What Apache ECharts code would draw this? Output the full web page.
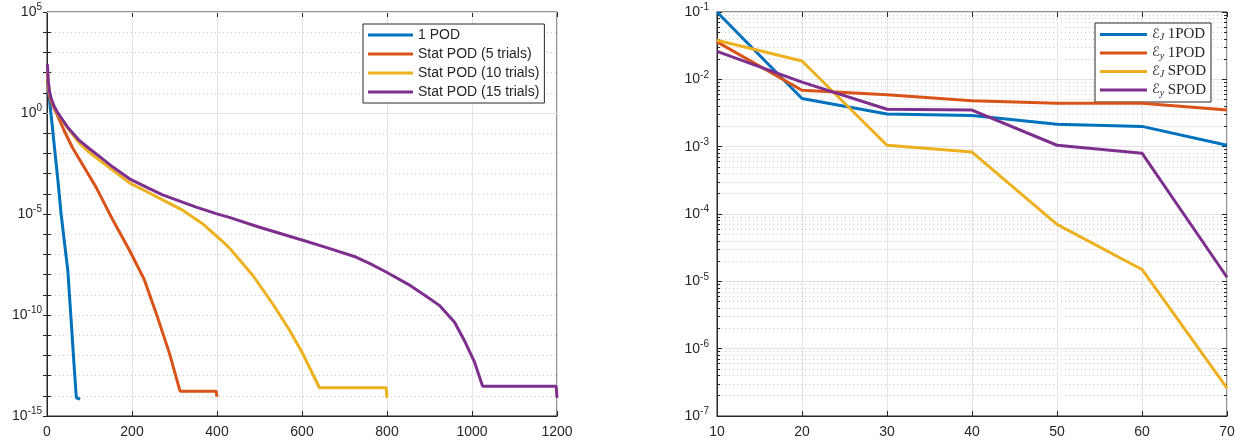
<!DOCTYPE html>
<html><head><meta charset="utf-8">
<script src="https://cdn.jsdelivr.net/npm/echarts@6/dist/echarts.min.js"></script>
<style>html,body{margin:0;padding:0;background:#fff}#c{width:1248px;height:447px}</style>
</head><body><div id="c"></div><script>
// ---- Left plot data ----
const podX  = [1, 4, 8, 12, 18, 25, 33, 41, 49, 55, 60, 65, 69, 71, 78];
const podY  = [50, 11, 1.6, 0.28, 1.6e-2, 6.3e-4, 1.1e-5, 4e-7, 1.6e-8, 2e-10, 5e-12, 1.3e-13, 8e-15, 6.8e-15, 6.8e-15];
const stat5X = [1, 3, 6, 10, 15, 22, 40, 60, 85, 115, 155, 194, 229, 257, 288, 313, 398, 400];
const stat5Y = [80, 20, 7, 3.5, 2, 1, 0.14, 1.9e-2, 2.5e-3, 2.2e-4, 5e-6, 1.6e-7, 5.6e-9, 1.2e-10, 1.3e-12, 1.7e-14, 1.7e-14, 9e-15];
const stat10X = [1, 3, 6, 10, 17, 25, 40, 76, 100, 155, 194, 241, 272, 320, 366, 410, 429, 484, 531, 571, 602, 641, 798, 800];
const stat10Y = [160, 30, 10, 4.5, 2, 0.9, 0.32, 3.2e-2, 1.1e-2, 1.45e-3, 3.5e-4, 1.1e-4, 5e-5, 1.5e-5, 3.3e-6, 5e-7, 2.1e-7, 9.3e-9, 3.6e-10, 1.7e-11, 1.2e-12, 2.5e-14, 2.5e-14, 8e-15];
const stat15X = [1, 3, 6, 10, 17, 25, 37, 50, 76, 100, 130, 155, 194, 241, 272, 351, 398, 429, 500, 602, 660, 727, 760, 798, 850, 900, 923, 959, 982, 1006, 1025, 1198, 1200];
const stat15Y = [260, 40, 11, 5, 2.1, 1.05, 0.44, 0.18, 4.4e-2, 1.7e-2, 5.5e-3, 2.1e-3, 5.5e-4, 1.8e-4, 8.9e-5, 2.2e-5, 1.05e-5, 6.8e-6, 2.2e-6, 5e-7, 2.1e-7, 7.4e-8, 3.5e-8, 1.35e-8, 3.3e-9, 6.5e-10, 3e-10, 4.4e-11, 5.5e-12, 4.6e-13, 3e-14, 3e-14, 8e-15];
const leftNames = ['1 POD', 'Stat POD (5 trials)', 'Stat POD (10 trials)', 'Stat POD (15 trials)'];
const leftXTicks = [0, 1200, 200];
const leftYMajor = [1e-15, 1e-10, 1e-5, 1, 1e5];
// ---- Right plot data ----
const nModes = [10, 20, 30, 40, 50, 60, 70];
const eJ1POD = [0.1, 5.2e-3, 3.05e-3, 2.9e-3, 2.15e-3, 2.0e-3, 1.05e-3];
const ey1POD = [3.6e-2, 6.9e-3, 5.9e-3, 4.8e-3, 4.4e-3, 4.4e-3, 3.5e-3];
const eJSPOD = [3.8e-2, 1.87e-2, 1.05e-3, 8.3e-4, 7e-5, 1.5e-5, 2.6e-7];
const eySPOD = [2.6e-2, 9.1e-3, 3.6e-3, 3.5e-3, 1.05e-3, 8e-4, 1.15e-5];
const rightNames = ['EJ 1POD', 'Ey 1POD', 'EJ SPOD', 'Ey SPOD'];
const rightLegendRich = {
  'EJ 1POD': '{e|ℰ}{j|J} {t|1POD}',
  'Ey 1POD': '{e|ℰ}{j|y} {t|1POD}',
  'EJ SPOD': '{e|ℰ}{j|J} {t|SPOD}',
  'Ey SPOD': '{e|ℰ}{j|y} {t|SPOD}'
};
const colors = ['#0072BD', '#D95319', '#EDB120', '#7E2F8E'];

const FONT = "'Liberation Sans', Arial, Helvetica, sans-serif";
const AX = '#262626';
const zip = (xs, ys) => xs.map((x, i) => [x, ys[i]]);

function supLabel(v) {
  const e = Math.round(Math.log10(v));
  return '{b|10}{s|' + e + '}';
}
function supLabel5(v) {
  const e = Math.round(Math.log10(v));
  return e % 5 === 0 ? '{b|10}{s|' + e + '}' : '';
}
const supRich = {
  b: { fontSize: 14, fontFamily: FONT, color: AX },
  s: { fontSize: 10, fontFamily: FONT, color: AX, padding: [0, 0, 9, 0] }
};

const majorGrid = { show: true, lineStyle: { color: '#e3e3e3', width: 1 } };
const minorGrid = { show: true, lineStyle: { color: '#c9c9c9', width: 1, type: [1, 3] } };

const option = {
  animation: false,
  backgroundColor: '#fff',
  color: colors,
  grid: [
    { left: 47, right: 691, top: 12, bottom: 31, show: true, borderColor: AX, borderWidth: 1, backgroundColor: 'transparent' },
    { left: 717, right: 21, top: 12, bottom: 31, show: true, borderColor: AX, borderWidth: 1, backgroundColor: 'transparent' }
  ],
  xAxis: [
    { type: 'value', gridIndex: 0, min: leftXTicks[0], max: leftXTicks[1], interval: leftXTicks[2],
      axisLine: { lineStyle: { color: AX } }, axisTick: { inside: true, length: 5, lineStyle: { color: AX } },
      axisLabel: { color: AX, fontFamily: FONT, fontSize: 14, margin: 9, formatter: v => String(v) }, splitLine: majorGrid },
    { type: 'value', gridIndex: 0, position: 'top', min: leftXTicks[0], max: leftXTicks[1], interval: leftXTicks[2],
      axisLine: { show: false }, axisTick: { inside: true, length: 5, lineStyle: { color: AX } },
      axisLabel: { show: false }, splitLine: { show: false } },
    { type: 'value', gridIndex: 1, min: 10, max: 70, interval: 10,
      axisLine: { lineStyle: { color: AX } }, axisTick: { inside: true, length: 5, lineStyle: { color: AX } },
      axisLabel: { color: AX, fontFamily: FONT, fontSize: 14, margin: 9 }, splitLine: majorGrid },
    { type: 'value', gridIndex: 1, position: 'top', min: 10, max: 70, interval: 10,
      axisLine: { show: false }, axisTick: { inside: true, length: 5, lineStyle: { color: AX } },
      axisLabel: { show: false }, splitLine: { show: false } }
  ],
  yAxis: [
    { type: 'log', gridIndex: 0, logBase: 10, min: 1e-15, max: 1e5, interval: 1,
      axisLine: { show: true, lineStyle: { color: AX } },
      axisTick: { show: true, inside: true, length: 4, lineStyle: { color: AX } },
      axisLabel: { formatter: supLabel5, rich: supRich, margin: 5 }, splitLine: minorGrid },
    { type: 'log', gridIndex: 0, logBase: 10, min: 1e-15, max: 1e5, interval: 1, position: 'right',
      axisLine: { show: false }, axisTick: { show: true, inside: true, length: 4, lineStyle: { color: AX } },
      axisLabel: { show: false }, splitLine: { show: false } },
    { type: 'log', gridIndex: 1, logBase: 10, min: 1e-7, max: 1e-1, interval: 1,
      axisLine: { show: true, lineStyle: { color: AX } },
      axisTick: { show: true, inside: true, length: 5, lineStyle: { color: AX } },
      minorTick: { show: true, splitNumber: 9, length: 3, lineStyle: { color: AX } },
      minorSplitLine: minorGrid,
      axisLabel: { formatter: supLabel, rich: supRich, margin: 8 }, splitLine: majorGrid },
    { type: 'log', gridIndex: 1, logBase: 10, min: 1e-7, max: 1e-1, interval: 1, position: 'right',
      axisLine: { show: false }, axisTick: { show: true, inside: true, length: 5, lineStyle: { color: AX } },
      minorTick: { show: true, splitNumber: 9, length: 3, lineStyle: { color: AX } },
      axisLabel: { show: false }, splitLine: { show: false } }
  ],
  legend: [
    { data: leftNames, orient: 'vertical', left: 363, top: 24, itemWidth: 45, itemHeight: 3, itemGap: 5,
      icon: 'rect', padding: [4, 5, 4, 5], borderColor: AX, borderWidth: 1, backgroundColor: '#fff', borderRadius: 0,
      textStyle: { fontFamily: FONT, fontSize: 14, color: AX, lineHeight: 14 } },
    { data: rightNames, orient: 'vertical', left: 1095, top: 23, itemWidth: 47, itemHeight: 3, itemGap: 3,
      icon: 'rect', padding: [4, 5, 4, 5], borderColor: AX, borderWidth: 1, backgroundColor: '#fff', borderRadius: 0,
      formatter: n => rightLegendRich[n],
      textStyle: { color: AX, rich: {
        e: { fontFamily: "'DejaVu Serif', 'DejaVu Sans', serif", fontSize: 13, color: AX },
        j: { fontFamily: "'Liberation Serif', serif", fontStyle: 'italic', fontSize: 10, color: AX, padding: [6, 0, 0, 0] },
        t: { fontFamily: "'Liberation Serif', serif", fontSize: 15, color: AX }
      } } }
  ],
  series: [
    { name: leftNames[0], type: 'line', xAxisIndex: 0, yAxisIndex: 0, data: zip(podX, podY), showSymbol: false, lineStyle: { width: 3 }, z: 5,
      markLine: { silent: true, symbol: 'none', label: { show: false }, animation: false,
        lineStyle: { color: '#e3e3e3', width: 1, type: 'solid' },
        data: leftYMajor.map(v => ({ yAxis: v })) } },
    { name: leftNames[1], type: 'line', xAxisIndex: 0, yAxisIndex: 0, data: zip(stat5X, stat5Y), showSymbol: false, lineStyle: { width: 3 }, z: 5 },
    { name: leftNames[2], type: 'line', xAxisIndex: 0, yAxisIndex: 0, data: zip(stat10X, stat10Y), showSymbol: false, lineStyle: { width: 3 }, z: 5 },
    { name: leftNames[3], type: 'line', xAxisIndex: 0, yAxisIndex: 0, data: zip(stat15X, stat15Y), showSymbol: false, lineStyle: { width: 3 }, z: 5 },
    { name: rightNames[0], type: 'line', xAxisIndex: 2, yAxisIndex: 2, data: zip(nModes, eJ1POD), showSymbol: false, lineStyle: { width: 3 }, z: 5 },
    { name: rightNames[1], type: 'line', xAxisIndex: 2, yAxisIndex: 2, data: zip(nModes, ey1POD), showSymbol: false, lineStyle: { width: 3 }, z: 5 },
    { name: rightNames[2], type: 'line', xAxisIndex: 2, yAxisIndex: 2, data: zip(nModes, eJSPOD), showSymbol: false, lineStyle: { width: 3 }, z: 5 },
    { name: rightNames[3], type: 'line', xAxisIndex: 2, yAxisIndex: 2, data: zip(nModes, eySPOD), showSymbol: false, lineStyle: { width: 3 }, z: 5 }
  ]
};
const chart = echarts.init(document.getElementById('c'), null, { renderer: 'canvas' });
chart.setOption(option);
</script></body></html>
